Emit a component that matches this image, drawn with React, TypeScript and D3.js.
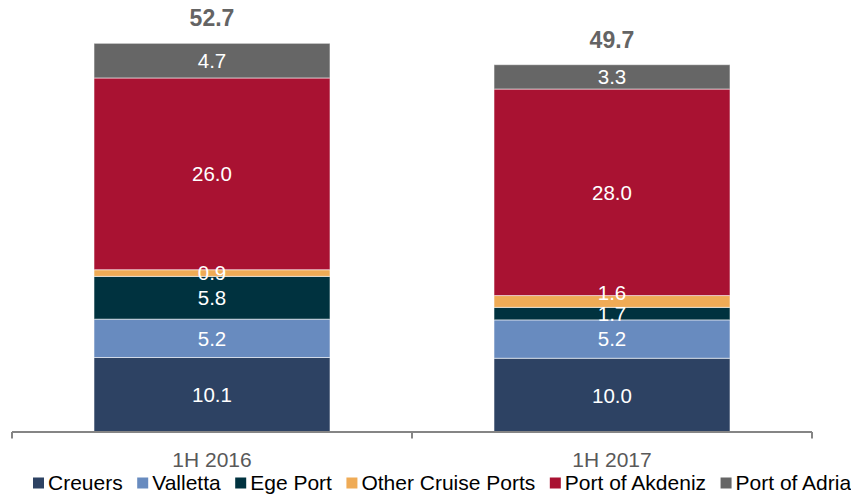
import { useEffect, useRef } from "react";
import * as d3 from "d3";

// values (EUR m)
const periods = ["1H 2016", "1H 2017"];
const seriesNames = ["Creuers", "Valletta", "Ege Port", "Other Cruise Ports", "Port of Akdeniz", "Port of Adria"];
const seriesColors = ["#2d4263", "#688bbf", "#00323f", "#efab56", "#a91232", "#666666"];
const creuers = [10.1, 10.0];
const valletta = [5.2, 5.2];
const egePort = [5.8, 1.7];
const otherCruisePorts = [0.9, 1.6];
const portOfAkdeniz = [26.0, 28.0];
const portOfAdria = [4.7, 3.3];
const totals = [52.7, 49.7];

function StackedChart() {
  const ref = useRef<SVGSVGElement>(null);

  useEffect(() => {
    const width = 851;
    const height = 495;
    const font = "'Liberation Sans', Arial, sans-serif";

    const svg = d3.select(ref.current);
    svg.selectAll("*").remove(); // clear previous chart
    svg.attr("width", width).attr("height", height);

    const seriesValues = [creuers, valletta, egePort, otherCruisePorts, portOfAkdeniz, portOfAdria];
    const rows = periods.map((p, i) => {
      const row: Record<string, any> = { period: p };
      seriesNames.forEach((s, j) => (row[s] = seriesValues[j][i]));
      return row;
    });
    const stacked = d3.stack<any>().keys(seriesNames)(rows);

    const x = d3.scaleBand().domain(periods).range([12, 812]).padding(0);
    const barWidth = x.bandwidth() * 0.59;
    const y = d3.scaleLinear().domain([0, d3.max(totals)!]).range([432, 43.3]);

    // segments
    const layers = svg.append("g")
      .selectAll("g")
      .data(stacked)
      .enter()
      .append("g")
      .attr("fill", (_, i) => seriesColors[i]);

    layers.selectAll("rect")
      .data((d) => d)
      .enter()
      .append("rect")
      .attr("x", (d) => x(d.data.period)! + (x.bandwidth() - barWidth) / 2)
      .attr("y", (d) => y(d[1]))
      .attr("width", barWidth)
      .attr("height", (d) => y(d[0]) - y(d[1]))
      .attr("stroke", "rgba(255,255,255,0.55)")
      .attr("stroke-width", 1);

    // segment labels (Excel pushed the small 1H 2017 "other" label up a bit)
    const nudge = (key: string, period: string) =>
      key === "Other Cruise Ports" && period === "1H 2017" ? -9 : 0;

    stacked.forEach((layer) => {
      svg.append("g")
        .selectAll("text")
        .data(layer)
        .enter()
        .append("text")
        .attr("x", (d) => x(d.data.period)! + x.bandwidth() / 2)
        .attr("y", (d) => (y(d[0]) + y(d[1])) / 2 + nudge(layer.key, d.data.period))
        .attr("dy", "0.36em")
        .attr("text-anchor", "middle")
        .attr("font-family", font)
        .attr("font-size", 20.5)
        .attr("fill", "#ffffff")
        .text((d) => (d[1] - d[0]).toFixed(1));
    });

    // totals
    svg.append("g")
      .selectAll("text")
      .data(periods)
      .enter()
      .append("text")
      .attr("x", (p) => x(p)! + x.bandwidth() / 2)
      .attr("y", (_, i) => y(totals[i]) - 17)
      .attr("text-anchor", "middle")
      .attr("font-family", font)
      .attr("font-size", 23)
      .attr("font-weight", "bold")
      .attr("fill", "#646464")
      .text((_, i) => totals[i].toFixed(1));

    // category axis
    const axis = svg.append("g").attr("stroke", "#858585").attr("stroke-width", 2);
    axis.append("line")
      .attr("x1", x.range()[0]).attr("x2", x.range()[1])
      .attr("y1", y(0)).attr("y2", y(0));
    const edges = [...periods.map((p) => x(p)!), x.range()[1]];
    axis.selectAll("line.tick")
      .data(edges)
      .enter()
      .append("line")
      .attr("class", "tick")
      .attr("x1", (d) => d).attr("x2", (d) => d)
      .attr("y1", y(0)).attr("y2", y(0) + 6.5);

    svg.append("g")
      .selectAll("text")
      .data(periods)
      .enter()
      .append("text")
      .attr("x", (p) => x(p)! + x.bandwidth() / 2)
      .attr("y", 466.5)
      .attr("text-anchor", "middle")
      .attr("font-family", font)
      .attr("font-size", 21)
      .attr("fill", "#595959")
      .text((p) => p);

    // legend, laid out left to right
    const legend = svg.append("g");
    let cursor = 33;
    seriesNames.forEach((name, i) => {
      legend.append("rect")
        .attr("x", cursor).attr("y", 477.5)
        .attr("width", 11).attr("height", 11)
        .attr("fill", seriesColors[i]);
      const t = legend.append("text")
        .attr("x", cursor + 15)
        .attr("y", 490)
        .attr("font-family", font)
        .attr("font-size", 21)
        .attr("fill", "#000000")
        .text(name);
      const w = (t.node() as SVGTextElement).getComputedTextLength();
      cursor += 15 + w + 14.5;
    });
  }, []);

  return <svg ref={ref} style={{ position: "absolute", left: 0, top: 0 }}></svg>;
}

export default function App() {
  return <StackedChart />;
}
